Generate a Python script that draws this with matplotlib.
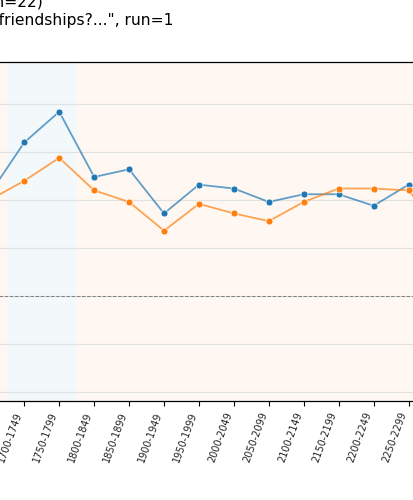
import matplotlib
matplotlib.use("Agg")
import matplotlib.pyplot as plt

# Periods along the x axis (only part of them is visible in the crop)
periods = [
    "1650-1699", "1700-1749", "1750-1799", "1800-1849", "1850-1899",
    "1900-1949", "1950-1999", "2000-2049", "2050-2099", "2100-2149",
    "2150-2199", "2200-2249", "2250-2299", "2300-2349",
]

# Mean scores per period, two series
series_a = [0.53, 0.80, 0.96, 0.62, 0.66, 0.43, 0.58, 0.56, 0.49, 0.53,
            0.53, 0.47, 0.58, 0.35]
series_b = [0.50, 0.60, 0.72, 0.55, 0.49, 0.34, 0.48, 0.43, 0.39, 0.49,
            0.56, 0.56, 0.55, 0.33]

# Highlighted period range (index span)
highlight = (0.5, 2.5)

blue = "#1f77b4"
orange = "#ff7f0e"

fig = plt.figure(figsize=(4.14, 5.0), dpi=100)
# the axes is wider than the figure: the picture is a crop of a wider chart
ax = fig.add_axes([-60 / 414, 1 - 401 / 500, 534 / 414, 339 / 500])

xs = list(range(len(periods)))
x_lo, x_hi = -1.413, 13.874

ax.axvspan(x_lo, highlight[0], color=orange, alpha=0.05, lw=0, zorder=0)
ax.axvspan(highlight[0], highlight[1], color=blue, alpha=0.05, lw=0, zorder=0)
ax.axvspan(highlight[1], x_hi, color=orange, alpha=0.05, lw=0, zorder=0)

ax.plot(xs, series_a, color=blue, alpha=0.7, lw=1.3, zorder=3)
ax.plot(xs, series_b, color=orange, alpha=0.7, lw=1.3, zorder=3)
ax.plot(xs, series_a, ls="none", marker="o", ms=5, color=blue,
        mec="white", mew=0.5, zorder=4)
ax.plot(xs, series_b, ls="none", marker="o", ms=5, color=orange,
        mec="white", mew=0.5, zorder=4)

ax.axhline(0, color="gray", lw=0.7, ls="--", zorder=2)

ax.set_xlim(x_lo, x_hi)
ax.set_ylim(-0.547, 1.219)
ax.set_yticks([-0.5, -0.25, 0, 0.25, 0.5, 0.75, 1.0])
ax.grid(axis="y", color="#e2e2e2", lw=0.9, zorder=1)
ax.set_axisbelow(True)

ax.set_xticks(xs)
ax.set_xticklabels(periods, rotation=70, ha="right", fontsize=7, color="#222222")
ax.tick_params(axis="x", length=3.5, width=0.8)

for side in ["top", "bottom", "left", "right"]:
    ax.spines[side].set_color("black")
    ax.spines[side].set_linewidth(0.9)

fig.text(43 / 414, 1 - 7 / 500, "Mean agreement score by period (n=22)",
         ha="right", va="baseline", fontsize=11.2)
fig.text(173 / 414, 1 - 25 / 500,
         'Prompt: "How important are friendships?...", run=1',
         ha="right", va="baseline", fontsize=11.2)

fig.savefig("out.png", dpi=100)
